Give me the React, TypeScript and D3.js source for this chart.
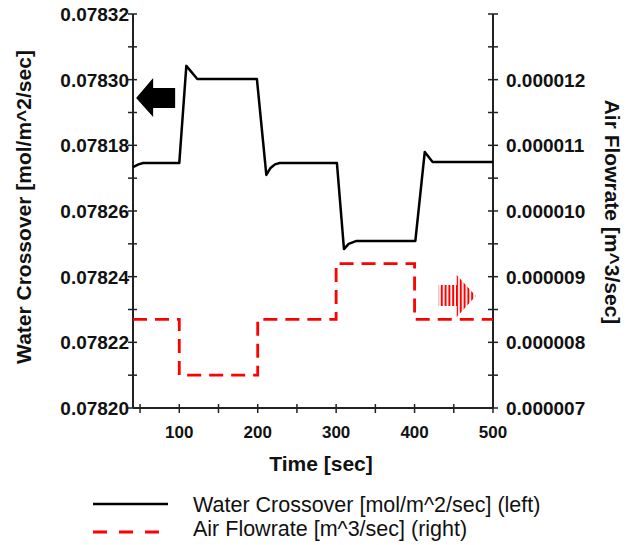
import React from "react";
import * as d3 from "d3";

const waterTime = [41, 48, 54, 100, 109, 123, 199, 211, 216, 222, 228, 301, 310, 316, 326, 401, 413, 423, 500];
const waterValue = [
  0.0782734, 0.0782742, 0.0782746, 0.0782746, 0.0783042, 0.0783002, 0.0783002,
  0.078271, 0.078273, 0.0782742, 0.0782746, 0.0782746, 0.0782484, 0.07825, 0.0782509,
  0.0782509, 0.078278, 0.0782749, 0.0782749,
];
const airTime = [41, 100, 200, 300, 400, 500];
const airValue = [8.35e-6, 7.5e-6, 8.35e-6, 9.2e-6, 8.35e-6, 8.35e-6];

const leftTickValues = [0.0782, 0.07822, 0.07824, 0.07826, 0.07828, 0.0783, 0.07832];
const leftTickLabels = ["0.07820", "0.07822", "0.07824", "0.07826", "0.07818", "0.07830", "0.07832"];
const rightTickValues = [7e-6, 8e-6, 9e-6, 10e-6, 11e-6, 12e-6];
const rightTickLabels = ["0.000007", "0.000008", "0.000009", "0.000010", "0.000011", "0.000012"];
const xTickValues = [100, 200, 300, 400, 500];
const xMinorTicks = [50, 150, 250, 350, 450];

const W = 639, H = 545;
const L = 133, R = 493, T = 14, B = 408;
const FONT = "'Liberation Sans', Arial, Helvetica, sans-serif";

export default function App() {
  const x = d3.scaleLinear().domain([41, 500]).range([L, R]);
  const yL = d3.scaleLinear().domain([0.0782, 0.07832]).range([B, T]);
  const yR = d3.scaleLinear().domain([7e-6, 13e-6]).range([B, T]);

  const waterLine = d3
    .line<number>()
    .x((_, i) => x(waterTime[i]))
    .y((d) => yL(d))(waterValue) as string;
  const airLine = d3
    .line<number>()
    .curve(d3.curveStepAfter)
    .x((_, i) => x(airTime[i]))
    .y((d) => yR(d))(airValue) as string;

  const leftAll = d3.range(0, 13).map((i) => 0.0782 + i * 0.00001);
  const rightAll = d3.range(0, 13).map((i) => 7e-6 + i * 0.5e-6);

  // arrow anchors
  const bx = x(45), by = yL(0.0782944);
  const blackArrow = [
    [bx, by], [bx + 17, by - 20], [bx + 17, by - 10], [bx + 39, by - 10],
    [bx + 39, by + 10], [bx + 17, by + 10], [bx + 17, by + 19],
  ].map((p) => p.join(",")).join(" ");
  const rx = x(478), ry = yR(8.706e-6);
  const redArrow = [
    [rx - 37, ry - 11], [rx - 19, ry - 11], [rx - 19, ry - 21], [rx, ry],
    [rx - 19, ry + 21], [rx - 19, ry + 10], [rx - 37, ry + 10],
  ].map((p) => p.join(",")).join(" ");

  return (
    <svg width={W} height={H} style={{ position: "absolute", left: 0, top: 0, background: "#fff" }} fontFamily={FONT}>
      <defs>
        <pattern id="stripes" width={3.8} height={10} patternUnits="userSpaceOnUse">
          <rect x={0} y={0} width={2} height={10} fill="#f00" />
        </pattern>
      </defs>
      {/* axes */}
      <line x1={L} x2={L} y1={T} y2={B} stroke="#222" strokeWidth={2} />
      <line x1={R} x2={R} y1={T} y2={B} stroke="#222" strokeWidth={2} />
      <line x1={L} x2={R} y1={B} y2={B} stroke="#222" strokeWidth={2} />
      {leftAll.map((v, i) => (
        <line key={"lt" + i} x1={L - 5} x2={L + 4} y1={yL(v)} y2={yL(v)} stroke="#222" strokeWidth={1.5} />
      ))}
      {rightAll.map((v, i) => (
        <line key={"rt" + i} x1={R - 5} x2={R + 5} y1={yR(v)} y2={yR(v)} stroke="#222" strokeWidth={1.5} />
      ))}
      {[...xTickValues, ...xMinorTicks].map((v, i) => (
        <line key={"xt" + i} x1={x(v)} x2={x(v)} y1={B - 4} y2={B + 5} stroke="#222" strokeWidth={1.5} />
      ))}
      {leftTickValues.map((v, i) => (
        <text key={"ll" + i} x={L - 4} y={yL(v)} dy="0.36em" textAnchor="end" fontSize={19} fontWeight="bold" fill="#111">
          {leftTickLabels[i]}
        </text>
      ))}
      {rightTickValues.map((v, i) => (
        <text key={"rl" + i} x={R + 13} y={yR(v)} dy="0.36em" textAnchor="start" fontSize={19} fontWeight="bold" fill="#111">
          {rightTickLabels[i]}
        </text>
      ))}
      {xTickValues.map((v, i) => (
        <text key={"xl" + i} x={x(v)} y={B + 30} textAnchor="middle" fontSize={17} fontWeight="bold" fill="#111">
          {v}
        </text>
      ))}
      <text x={321} y={471} textAnchor="middle" fontSize={21} fontWeight="bold" fill="#111">Time [sec]</text>
      <text transform="translate(31,207) rotate(-90)" textAnchor="middle" fontSize={21} fontWeight="bold" fill="#111">
        Water Crossover [mol/m^2/sec]
      </text>
      <text transform="translate(605,212) rotate(90)" textAnchor="middle" fontSize={21} fontWeight="bold" fill="#111">
        Air Flowrate [m^3/sec]
      </text>
      {/* data */}
      <path d={airLine} fill="none" stroke="#f00" strokeWidth={2.8} strokeDasharray="14 8" />
      <path d={waterLine} fill="none" stroke="#000" strokeWidth={2.5} strokeLinejoin="round" />
      <polygon points={blackArrow} fill="#000" />
      <polygon points={redArrow} fill="url(#stripes)" />
      {/* legend */}
      <line x1={93} x2={168} y1={504} y2={504} stroke="#000" strokeWidth={2.5} />
      <line x1={93} x2={160} y1={532} y2={532} stroke="#f00" strokeWidth={2.8} strokeDasharray="14 12" />
      <text x={193} y={512} fontSize={21.5} fill="#111">Water Crossover [mol/m^2/sec] (left)</text>
      <text x={193} y={536} fontSize={21.5} fill="#111">Air Flowrate [m^3/sec] (right)</text>
    </svg>
  );
}
